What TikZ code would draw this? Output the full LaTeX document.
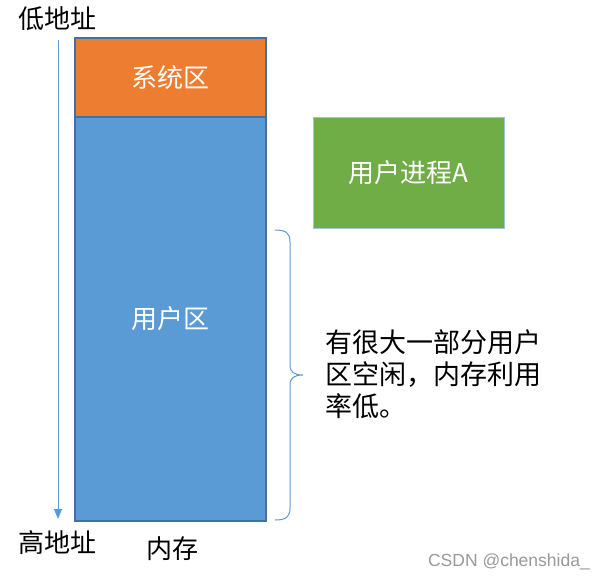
\documentclass[tikz,border=0pt]{standalone}
\usepackage{fontspec}
\setmainfont{Noto Sans CJK SC}
\newfontfamily\markfont{Liberation Sans}
\usepackage{tikz}
\usetikzlibrary{arrows.meta}

\definecolor{sysorange}{HTML}{ED7D31}
\definecolor{userblue}{HTML}{5B9BD5}
\definecolor{procgreen}{HTML}{70AD47}
\definecolor{edgeblue}{HTML}{41719C}

\tikzset{
    area/.style={draw=edgeblue, line width=1.5pt, minimum width=191pt, text=white,
        font=\fontsize{26pt}{30pt}\selectfont, inner sep=0pt},
    label/.style={font=\fontsize{26pt}{30pt}\selectfont, inner sep=0pt}
}

\begin{document}
\begin{tikzpicture}[x=1pt, y=-1pt]
            \useasboundingbox (0,0) rectangle (599,581);
            % memory
            \node[area, fill=sysorange, minimum height=79pt] (sys) at (170.5,77.5) {系统区};
            \node[area, fill=userblue, minimum height=404pt] (user) at (170.5,319) {用户区};
            \node[label] (mem) at (172,549) {内存};
            % addresses
            \node[label] (low) at (57,19) {低地址};
            \node[label] (high) at (57,543) {高地址};
            \coordinate (top) at (58,40);
            \coordinate (bottom) at (58,519);
            \draw[userblue, line width=1pt, -{Triangle[length=10pt,width=8pt]}] (top) -- (bottom);
            % process
            \node[area, fill=procgreen, draw=userblue!60, line width=1pt, minimum height=111pt] (proc) at (408.5,172.5) {用户进程A};
            % free part
            \coordinate (bracetop) at (275,230);
            \coordinate (bracetip) at (303,375);
            \coordinate (bracebot) at (275,520);
            \draw[userblue, line width=1pt] (bracetop) .. controls (286,230) and (290,233) .. (290,242)
                -- (290,365) .. controls (290,372) and (294,375) .. (bracetip)
                .. controls (294,375) and (290,378) .. (290,385)
                -- (290,508) .. controls (290,517) and (286,520) .. (bracebot);
            \node[label, anchor=west, align=left, font=\fontsize{27pt}{32pt}\selectfont] (note) at (325,374)
                {有很大一部分用户\\区空闲，内存利用\\率低。};
            \node[inner sep=0pt, text=black!40, font=\markfont\fontsize{17.5pt}{20pt}\selectfont, anchor=east] (mark) at (590,562) {CSDN @chenshida\_};
        \end{tikzpicture}
\end{document}
